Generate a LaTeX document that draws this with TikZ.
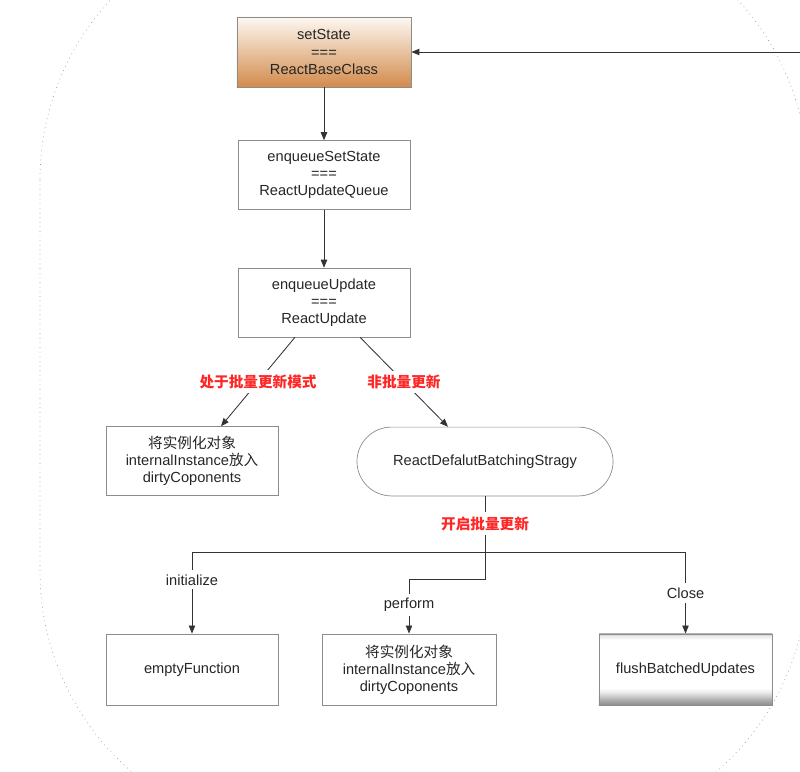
\documentclass[tikz,border=0pt]{standalone}
\usepackage{fontspec}
\setmainfont{Liberation Sans}
\newfontfamily\cjk{Noto Sans CJK SC}
\usetikzlibrary{arrows.meta}
\definecolor{basetop}{HTML}{FDF8F2}
\definecolor{basemid}{HTML}{EDC9A6}
\definecolor{basebot}{HTML}{D28B4C}
\definecolor{hot}{HTML}{FF2626}
\pgfdeclareverticalshading{bevel}{100bp}{color(0bp)=(black!45); color(25bp)=(black!45); color(28bp)=(black!35); color(34bp)=(black!8); color(37bp)=(white); color(71bp)=(white); color(74bp)=(black!10); color(75bp)=(black!22); color(100bp)=(black!22)}

\begin{document}
\begin{tikzpicture}[x=0.025cm,y=-0.025cm,
  font=\fontsize{10.4}{12.2}\selectfont,
  box/.style={draw=black!45, line width=0.5pt, align=center, minimum width=4.3cm,
    minimum height=1.72cm, inner sep=0pt, text=black!85},
  link/.style={draw=black!80, line width=0.6pt, -{Triangle[length=2mm,width=1.6mm]}},
  hotlabel/.style={fill=white, text=hot, font=\fontsize{10.4}{12.2}\selectfont\cjk\bfseries, inner sep=3pt},
  tag/.style={fill=white, inner sep=3pt, text=black!85}]
  \useasboundingbox (0,0) rectangle (800,771);
  \draw[black!40, line width=0.5pt, dash pattern=on 0.5pt off 2.8pt, rounded corners=6.65cm]
    (40,-86) rectangle (808,837);

  \node[box, minimum width=4.35cm, minimum height=1.75cm, top color=basetop, middle color=basemid,
    bottom color=basebot] (base) at (324,52) {setState\\===\\ReactBaseClass};
  \node[box] (ssq) at (324,175) {enqueueSetState\\===\\ReactUpdateQueue};
  \node[box] (upd) at (324,302.5) {enqueueUpdate\\===\\ReactUpdate};
  \node[box] (dirty) at (192,461) {{\cjk 将实例化对象}\\internalInstance{\cjk 放入}\\dirtyCoponents};
  \node[box, minimum width=6.4cm, rounded corners=0.86cm] (bs) at (485,461.5) {ReactDefalutBatchingStragy};
  \node[box, minimum height=1.78cm] (ef) at (192,669.5) {emptyFunction};
  \node[box, minimum width=4.35cm, minimum height=1.78cm] (perf) at (409,669.5)
    {{\cjk 将实例化对象}\\internalInstance{\cjk 放入}\\dirtyCoponents};
  \node[box, minimum width=4.33cm, minimum height=1.78cm, shading=bevel] (flush) at (685.5,669.5)
    {flushBatchedUpdates};

  \coordinate (ext) at (800,52);
  \draw[link] (ext) -- (base.east);
  \draw[link] (base) -- (ssq);
  \draw[link] (ssq) -- (upd);
  \draw[link] ([xshift=-0.725cm]upd.south) -- node[hotlabel]{处于批量更新模式} ([xshift=0.725cm]dirty.north);
  \draw[link] ([xshift=0.9cm]upd.south) -- node[hotlabel]{非批量更新} ([xshift=-0.925cm]bs.north);

  \path (bs.south) ++(0,56) coordinate (fork);
  \draw[link] (fork) -| node[tag, pos=0.67]{initialize} (ef.north);
  \draw[link] (fork) -| node[tag, pos=0.75]{Close} (flush.north);
  \draw[link] (bs.south) -- node[hotlabel, pos=0.33]{开启批量更新} ++(0,83)
    -| node[tag, pos=0.735]{perform} (perf.north);
\end{tikzpicture}
\end{document}
